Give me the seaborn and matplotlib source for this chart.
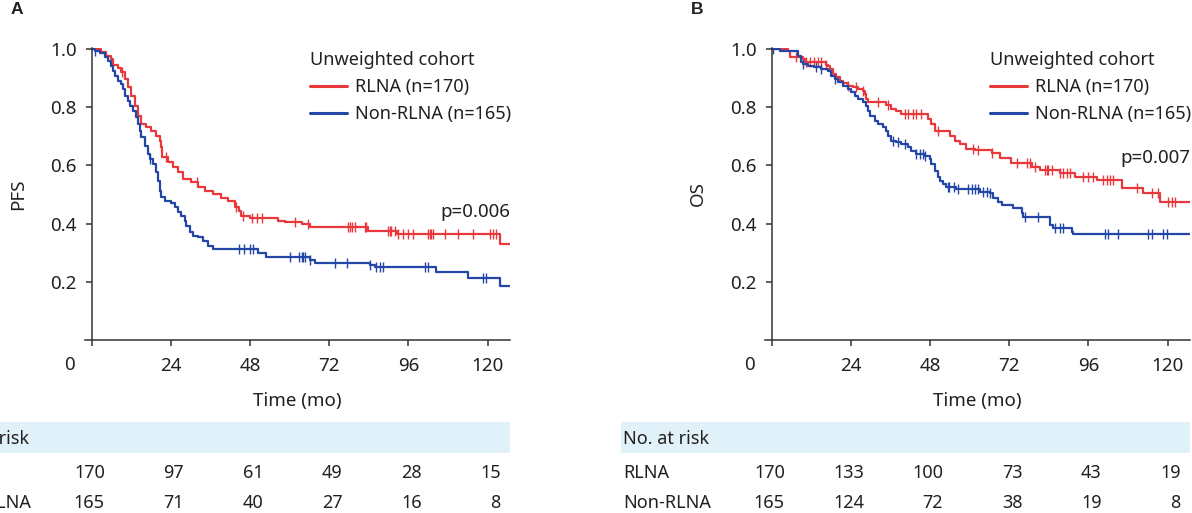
import numpy as np
import pandas as pd
import matplotlib
matplotlib.use("Agg")
import matplotlib.pyplot as plt
import matplotlib.transforms as mtransforms
from matplotlib.patches import Rectangle
import seaborn as sns

# ===========================================
# values
# ===========================================

# PFS, RLNA (n=170)
pfs_time_rlna = [0, 2.9, 4.4, 5.9, 6.4, 8.0, 9.0, 10.0, 11.0, 12.0, 13.0, 14.0, 14.8,
                 16.5, 18.1, 19.6, 20.6, 20.9, 21.3, 23.1, 24.6, 26.2, 27.7, 30.2, 32.2,
                 34.2, 36.8, 39.3, 41.3, 43.3, 44.8, 45.3, 47.9, 56.5, 58.6, 63.6, 66.2,
                 83.8, 92.4, 123.7, 127]
pfs_surv_rlna = [1.0, 0.989, 0.977, 0.966, 0.945, 0.935, 0.920, 0.897, 0.868, 0.840, 0.805,
                 0.771, 0.742, 0.731, 0.717, 0.702, 0.685, 0.662, 0.628, 0.611, 0.593, 0.576,
                 0.553, 0.542, 0.527, 0.513, 0.502, 0.488, 0.476, 0.458, 0.444, 0.427, 0.419,
                 0.410, 0.405, 0.398, 0.387, 0.376, 0.363, 0.330, 0.330]
pfs_cens_rlna = [9.1, 22.5, 32.0, 43.6, 46.0, 48.5, 50.0, 51.5, 61.6, 65.6, 77.8, 78.3, 78.8,
                 79.8, 82.8, 83.3, 89.8, 90.3, 90.8, 91.8, 92.8, 94.4, 96.0, 97.5, 102.0,
                 102.5, 103.0, 103.5, 107.1, 111.1, 115.6, 120.7, 121.7, 122.7]

# PFS, Non-RLNA (n=165)
pfs_time_non = [0, 0.9, 2.4, 3.9, 4.9, 6.0, 6.5, 7.0, 8.0, 9.0, 9.5, 10.0, 11.0, 11.5, 12.5,
                13.5, 14.0, 14.5, 15.0, 16.1, 17.1, 17.6, 18.6, 19.6, 20.1, 20.6, 21.1, 22.1,
                24.1, 25.1, 26.2, 27.2, 28.2, 28.7, 29.7, 30.7, 32.2, 33.7, 35.2, 36.8, 50.4,
                52.9, 66.2, 67.7, 84.3, 85.8, 104.5, 114.1, 123.7, 127]
pfs_surv_non = [1.0, 0.994, 0.985, 0.971, 0.960, 0.943, 0.925, 0.908, 0.891, 0.880, 0.863,
                0.840, 0.822, 0.805, 0.788, 0.765, 0.742, 0.719, 0.696, 0.668, 0.639, 0.622,
                0.605, 0.576, 0.547, 0.513, 0.490, 0.479, 0.470, 0.456, 0.439, 0.427, 0.410,
                0.393, 0.370, 0.358, 0.353, 0.341, 0.324, 0.312, 0.300, 0.284, 0.275, 0.266,
                0.258, 0.252, 0.235, 0.212, 0.186, 0.186]
pfs_cens_non = [0.9, 17.6, 44.8, 46.3, 47.9, 48.9, 60.1, 62.9, 63.6, 64.1, 64.6, 66.2, 73.7,
                77.3, 84.3, 86.3, 87.3, 88.3, 100.9, 101.9, 118.6, 119.6]

# OS, RLNA (n=170)
os_time_rlna = [0, 4.9, 5.5, 9.5, 10.0, 16.6, 17.1, 17.6, 18.6, 19.6, 20.6, 21.6, 23.2, 24.7,
                26.2, 27.7, 28.2, 28.7, 29.2, 34.8, 36.3, 37.8, 39.3, 47.4, 48.4, 49.4, 54.0,
                55.5, 57.0, 59.0, 61.6, 66.7, 69.2, 72.7, 78.8, 81.3, 87.4, 92.0, 98.5,
                106.1, 112.6, 117.7, 127]
os_surv_rlna = [1.0, 0.992, 0.971, 0.966, 0.954, 0.946, 0.943, 0.931, 0.914, 0.903, 0.891,
                0.882, 0.874, 0.868, 0.863, 0.857, 0.845, 0.828, 0.817, 0.809, 0.794, 0.788,
                0.777, 0.759, 0.742, 0.719, 0.702, 0.685, 0.674, 0.656, 0.653, 0.641, 0.624,
                0.607, 0.596, 0.584, 0.573, 0.561, 0.550, 0.521, 0.504, 0.475, 0.475]
os_cens_rlna = [7.5, 10.5, 11.5, 13.0, 14.0, 15.0, 16.6, 23.2, 25.7, 27.7, 32.2, 35.3, 40.4,
                41.4, 42.9, 43.9, 45.4, 50.4, 61.1, 62.6, 66.7, 74.3, 77.3, 78.3, 79.8, 82.9,
                83.4, 83.9, 84.9, 87.4, 88.4, 89.4, 90.4, 94.5, 96.0, 97.5, 100.5, 101.5,
                102.5, 103.6, 110.6, 115.2, 117.2, 120.2, 121.2, 122.2]

# OS, Non-RLNA (n=165)
os_time_non = [0, 2.4, 8.0, 9.0, 9.5, 11.0, 13.0, 15.1, 17.1, 18.1, 19.1, 20.1, 21.6, 23.2,
               24.2, 25.2, 26.2, 27.7, 28.7, 29.2, 29.7, 31.2, 32.2, 33.8, 34.8, 35.3, 36.3,
               37.8, 39.3, 41.3, 42.3, 43.9, 46.4, 47.9, 48.4, 49.4, 50.4, 50.9, 51.9, 52.9,
               56.0, 63.2, 66.2, 67.2, 68.7, 69.7, 73.3, 75.8, 76.3, 84.4, 85.4, 90.9, 91.4, 127]
os_surv_non = [1.0, 0.994, 0.975, 0.954, 0.948, 0.943, 0.937, 0.931, 0.925, 0.908, 0.897,
               0.886, 0.874, 0.863, 0.851, 0.840, 0.828, 0.817, 0.805, 0.788, 0.771, 0.754,
               0.742, 0.731, 0.719, 0.702, 0.685, 0.679, 0.674, 0.662, 0.651, 0.639, 0.633,
               0.622, 0.605, 0.582, 0.559, 0.547, 0.536, 0.525, 0.519, 0.510, 0.504, 0.487,
               0.475, 0.464, 0.453, 0.435, 0.424, 0.395, 0.384, 0.372, 0.364, 0.364]
os_cens_non = [0.5, 9.5, 13.5, 15.1, 19.1, 36.8, 38.3, 40.3, 43.9, 44.9, 45.9, 46.4, 53.4,
               53.9, 55.4, 56.4, 59.6, 60.6, 61.6, 62.6, 64.2, 65.2, 66.2, 76.8, 80.8, 85.9,
               87.4, 88.4, 101.0, 102.0, 105.0, 114.2, 115.2, 118.7, 119.7]

# numbers at risk
risk_times = [0, 24, 48, 72, 96, 120]
pfs_risk_rlna = [170, 97, 61, 49, 28, 15]
pfs_risk_non = [165, 71, 40, 27, 16, 8]
os_risk_rlna = [170, 133, 100, 73, 43, 19]
os_risk_non = [165, 124, 72, 38, 19, 8]

group_labels = ["RLNA (n=170)", "Non-RLNA (n=165)"]
row_labels = ["RLNA", "Non-RLNA"]

RED = "#e8383c"
BLUE = "#2446a6"
TXT = "#231f20"
BAND = "#e1f1f9"

# ===========================================
# figure
# ===========================================
sns.set_style("ticks")
plt.rcParams["font.family"] = ["Noto Sans", "DejaVu Sans"]
plt.rcParams["text.color"] = TXT

W, H = 1192, 513
fig = plt.figure(figsize=(W / 100, H / 100), dpi=100)


def add_axes_px(left, right, top, bottom):
    return fig.add_axes([left / W, 1 - bottom / H, (right - left) / W, (bottom - top) / H])


def draw_panel(ax, curves, risks, ylab, pval, pval_y, letter):
    for (name, t, s, cens, color) in curves:
        df = pd.DataFrame({"time": t, "surv": s})
        sns.lineplot(data=df, x="time", y="surv", estimator=None, sort=False,
                     drawstyle="steps-post", color=color, linewidth=1.6,
                     label=name, ax=ax)
        idx = np.searchsorted(t, cens, side="right") - 1
        cy = np.asarray(s)[idx]
        sns.scatterplot(x=cens, y=cy, marker="|", s=45, color=color,
                        linewidth=1.0, legend=False, ax=ax)

    ax.set_xlim(-2, 126.8)
    ax.set_ylim(0, 1.005)
    ax.spines["left"].set_position(("data", 0))
    ax.spines[["top", "right"]].set_visible(False)
    for sp in ["left", "bottom"]:
        ax.spines[sp].set_color("#333333")
        ax.spines[sp].set_linewidth(1.1)

    ax.set_xticks(risk_times, [""] + [str(v) for v in risk_times[1:]])
    ax.set_yticks([0.2, 0.4, 0.6, 0.8, 1.0], ["0.2", "0.4", "0.6", "0.8", "1.0"])
    ax.tick_params(axis="both", length=4.5, width=1.1, color="#333333",
                   labelsize=13.5, labelcolor=TXT)
    ax.tick_params(axis="x", pad=8)
    ax.tick_params(axis="y", pad=6)
    ax.set_xlabel("")
    ax.set_ylabel("")

    bt = mtransforms.blended_transform_factory(ax.transData, ax.transAxes)
    ax.text(-6.6, -0.086, "0", transform=bt, ha="center", va="center", fontsize=13.5)
    ax.text(0.5, -0.209, "Time (mo)", transform=ax.transAxes, ha="center",
            va="center", fontsize=13.5)
    ax.text(-22.3, 0.5, ylab, transform=bt, rotation=90, ha="center", va="center",
            fontsize=13.5)
    ax.text(-22.7, 1.13, letter, transform=bt, ha="center", va="center",
            fontsize=12.5, fontweight="bold", family=["Liberation Sans", "DejaVu Sans"])
    ax.text(1.0, pval_y, pval, transform=mtransforms.blended_transform_factory(
        ax.transAxes, ax.transData), ha="right", va="center", fontsize=13.5)

    leg = ax.legend(title="Unweighted cohort", loc="upper left",
                    bbox_to_anchor=(0.513, 1.012), frameon=False, fontsize=13,
                    title_fontsize=13, handlelength=2.05, handletextpad=0.45,
                    labelspacing=0.5, borderaxespad=0)
    leg._legend_box.align = "left"
    for h in leg.legend_handles:
        h.set_linewidth(2.2)

    # number-at-risk table
    ax.add_patch(Rectangle((-45.5, -0.386), 126.8 + 45.5, 0.106, transform=bt,
                           facecolor=BAND, edgecolor="none", clip_on=False, zorder=0))
    ax.text(-45.0, -0.338, "No. at risk", transform=bt, ha="left", va="center",
            fontsize=13)
    for row_y, lab, nums in zip([-0.453, -0.556], row_labels, risks):
        ax.text(-45.0, row_y, lab, transform=bt, ha="left", va="center", fontsize=13)
        for tx, n in zip(risk_times, nums):
            ax.text(tx + 4.0, row_y, str(n), transform=bt, ha="right", va="center",
                    fontsize=13)


ax_a = add_axes_px(85.1, 510, 47.5, 340)
ax_b = add_axes_px(765.0, 1190, 47.5, 340)

draw_panel(
    ax_a,
    [(group_labels[0], pfs_time_rlna, pfs_surv_rlna, pfs_cens_rlna, RED),
     (group_labels[1], pfs_time_non, pfs_surv_non, pfs_cens_non, BLUE)],
    [pfs_risk_rlna, pfs_risk_non], "PFS", "p=0.006", 0.44, "A")

draw_panel(
    ax_b,
    [(group_labels[0], os_time_rlna, os_surv_rlna, os_cens_rlna, RED),
     (group_labels[1], os_time_non, os_surv_non, os_cens_non, BLUE)],
    [os_risk_rlna, os_risk_non], "OS", "p=0.007", 0.625, "B")

fig.savefig("out.png", dpi=100)
